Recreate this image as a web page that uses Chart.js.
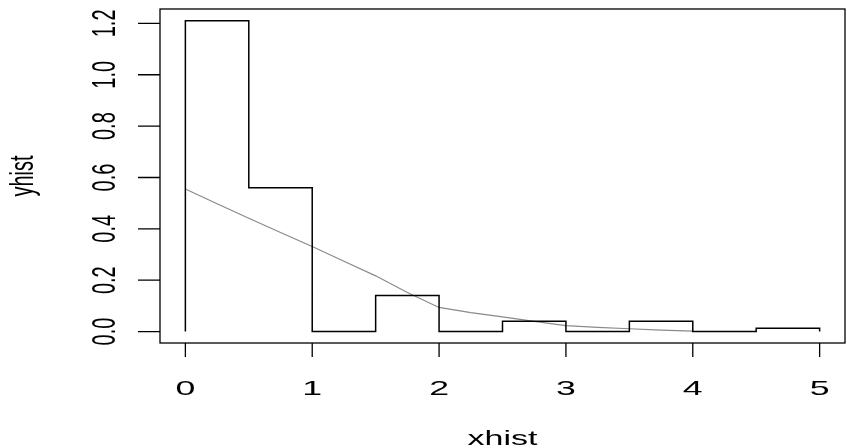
<!DOCTYPE html>
<html>
<head>
<meta charset="utf-8">
<script src="https://cdn.jsdelivr.net/npm/chart.js@4/dist/chart.umd.min.js"></script>
<style>
  html, body { margin: 0; padding: 0; background: #fff; }
  #wrap { width: 847px; height: 448px; }
</style>
</head>
<body>
<div id="wrap"><canvas id="c"></canvas></div>
<script>
// histogram breaks and densities
const breaks = [0, 0.5, 1, 1.5, 2, 2.5, 3, 3.5, 4, 4.5, 5];
const density = [1.21, 0.56, 0, 0.14, 0, 0.04, 0, 0.04, 0, 0.013];

// fitted curve
const curveX = [0, 0.25, 0.5, 0.75, 1, 1.25, 1.5, 1.75, 2, 2.25, 2.5, 2.75, 3, 3.25, 3.5, 3.75, 4];
const curveY = [0.555, 0.498, 0.441, 0.386, 0.331, 0.274, 0.217, 0.152, 0.094, 0.074, 0.057, 0.04, 0.023, 0.016, 0.011, 0.006, 0.002];

// axis ticks
const xTicks = [0, 1, 2, 3, 4, 5];
const yTicks = [0, 0.2, 0.4, 0.6, 0.8, 1.0, 1.2];
const xTitle = "xhist";
const yTitle = "yhist";

// step line: start at 0, each bin's density, back down at the last break
let stepPts = [{x: breaks[0], y: 0}];
density.forEach((d, i) => stepPts.push({x: breaks[i], y: d}));
stepPts.push({x: breaks[breaks.length - 1], y: 0});

let curvePts = curveX.map((x, i) => ({x: x, y: curveY[i]}));

const FONT = "Liberation Sans, Arial, Helvetica, sans-serif";
const STRETCH = 1.7;

// R style box, ticks and labels
const rAxes = {
  id: "rAxes",
  afterDraw(chart) {
    const ctx = chart.ctx;
    const a = chart.chartArea;
    const xs = chart.scales.x, ys = chart.scales.y;
    ctx.save();
    ctx.strokeStyle = "#000";
    ctx.fillStyle = "#000";
    ctx.lineWidth = 1.3;
    ctx.strokeRect(a.left, a.top, a.right - a.left, a.bottom - a.top);

    ctx.beginPath();
    xTicks.forEach(v => {
      const px = xs.getPixelForValue(v);
      ctx.moveTo(px, a.bottom);
      ctx.lineTo(px, a.bottom + 14);
    });
    yTicks.forEach(v => {
      const py = ys.getPixelForValue(v);
      ctx.moveTo(a.left, py);
      ctx.lineTo(a.left - 22, py);
    });
    ctx.stroke();

    ctx.textAlign = "center";
    ctx.textBaseline = "alphabetic";
    ctx.font = "21px " + FONT;
    xTicks.forEach(v => {
      ctx.save();
      ctx.translate(xs.getPixelForValue(v), a.bottom + 52);
      ctx.scale(STRETCH, 1);
      ctx.fillText(String(v), 0, 0);
      ctx.restore();
    });

    ctx.font = "20px " + FONT;
    yTicks.forEach(v => {
      ctx.save();
      ctx.translate(a.left - 45, ys.getPixelForValue(v));
      ctx.scale(STRETCH, 1);
      ctx.rotate(-Math.PI / 2);
      ctx.fillText(v.toFixed(1), 0, 0);
      ctx.restore();
    });

    ctx.save();
    ctx.translate((a.left + a.right) / 2, a.bottom + 102);
    ctx.scale(STRETCH, 1);
    ctx.fillText(xTitle, 0, 0);
    ctx.restore();

    ctx.save();
    ctx.translate(33, (a.top + a.bottom) / 2);
    ctx.scale(STRETCH, 1);
    ctx.rotate(-Math.PI / 2);
    ctx.fillText(yTitle, 0, 0);
    ctx.restore();

    ctx.restore();
  }
};

new Chart(document.getElementById("c"), {
  type: "line",
  data: {
    datasets: [
      {
        data: stepPts,
        stepped: "before",
        borderColor: "#000",
        borderWidth: 1.5,
        pointRadius: 0,
        fill: false
      },
      {
        data: curvePts,
        borderColor: "#8a8a8a",
        borderWidth: 1.2,
        pointRadius: 0,
        tension: 0,
        fill: false
      }
    ]
  },
  options: {
    responsive: true,
    maintainAspectRatio: false,
    animation: false,
    layout: { padding: { left: 160, right: 2, top: 9, bottom: 105 } },
    plugins: { legend: { display: false }, tooltip: { enabled: false } },
    scales: {
      x: { type: "linear", min: -0.2, max: 5.2, display: false },
      y: { type: "linear", min: -0.0445, max: 1.256, display: false }
    }
  },
  plugins: [rAxes]
});
</script>
</body>
</html>
